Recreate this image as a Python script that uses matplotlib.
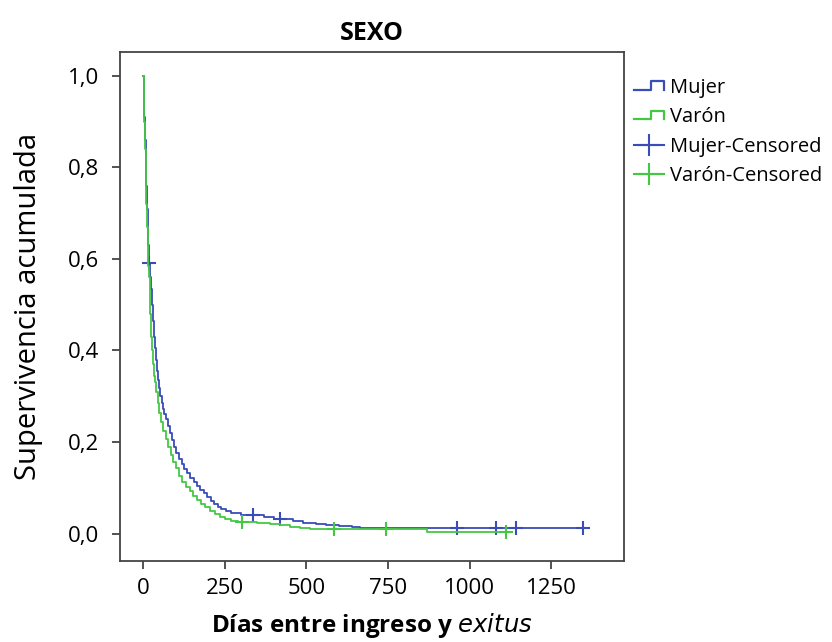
import matplotlib
matplotlib.use('Agg')
import matplotlib.pyplot as plt
import numpy as np
from matplotlib.lines import Line2D
from matplotlib.legend_handler import HandlerBase

# Kaplan-Meier estimates: event times (days) and survival after each step
mujer_t = [0, 2, 4, 6, 8, 10, 12, 14, 16, 18, 21, 24, 27, 30, 33, 36, 39, 42,
           45, 49, 53, 57, 61, 65, 70, 76, 82, 88, 95, 102, 110, 118, 126, 135,
           145, 155, 165, 175, 185, 196, 207, 218, 228, 240, 255, 270, 300, 370,
           400, 460, 490, 530, 560, 600, 640, 665, 1346]
mujer_s = [1.0, 0.96, 0.91, 0.86, 0.81, 0.76, 0.71, 0.67, 0.63, 0.59, 0.56,
           0.535, 0.50, 0.465, 0.43, 0.405, 0.38, 0.355, 0.335, 0.318, 0.30,
           0.285, 0.272, 0.262, 0.25, 0.235, 0.22, 0.205, 0.19, 0.176, 0.163,
           0.152, 0.142, 0.132, 0.122, 0.113, 0.104, 0.096, 0.088, 0.080, 0.072,
           0.064, 0.058, 0.053, 0.049, 0.045, 0.041, 0.036, 0.031, 0.028, 0.024,
           0.021, 0.019, 0.017, 0.014, 0.011, 0.011]
mujer_cens = [18, 335, 419, 961, 1080, 1142, 1346]

varon_t = [0, 2, 4, 6, 8, 10, 12, 14, 16, 18, 20, 22, 24, 27, 30, 33, 36, 40,
           45, 50, 56, 62, 69, 76, 84, 92, 100, 110, 120, 130, 142, 154, 166,
           178, 190, 205, 220, 235, 250, 270, 290, 350, 388, 420, 450, 480, 510,
           868, 1111]
varon_s = [1.0, 0.95, 0.90, 0.84, 0.78, 0.72, 0.67, 0.62, 0.585, 0.56, 0.53,
           0.48, 0.43, 0.40, 0.37, 0.345, 0.33, 0.31, 0.285, 0.263, 0.243, 0.225,
           0.207, 0.19, 0.172, 0.157, 0.144, 0.126, 0.113, 0.102, 0.092, 0.083,
           0.074, 0.064, 0.057, 0.050, 0.043, 0.037, 0.032, 0.028, 0.025, 0.023,
           0.020, 0.018, 0.015, 0.012, 0.010, 0.003, 0.003]
varon_cens = [303, 584, 744, 1111]

colors = ['#3a4cb8', '#44c844']

x_ticks = [0, 250, 500, 750, 1000, 1250]
y_ticks = [0.0, 0.2, 0.4, 0.6, 0.8, 1.0]

plt.rcParams['font.family'] = ['Open Sans', 'DejaVu Sans']
plt.rcParams['font.size'] = 16


def surv_at(t, times, surv):
    idx = np.searchsorted(times, t, side='right') - 1
    return np.asarray(surv)[idx]


class StepHandler(HandlerBase):
    # little step-shaped icon for the survival lines in the legend
    def create_artists(self, legend, orig_handle, xdescent, ydescent,
                       width, height, fontsize, trans):
        xs = np.array([0, 0.55, 0.55, 1.0, 1.0]) * width - xdescent
        ys = np.array([0.2, 0.2, 0.8, 0.8, 0.2]) * height - ydescent
        line = Line2D(xs, ys, color=orig_handle.get_color(), lw=1.6,
                      transform=trans)
        return [line]


fig = plt.figure(figsize=(8.32, 6.42), dpi=100)
ax = fig.add_axes([0.1442, 0.1262, 0.6058, 0.7928])

data = [(mujer_t, mujer_s, mujer_cens), (varon_t, varon_s, varon_cens)]
for (t, s, cens), c in zip(data, colors):
    ax.step(t, s, where='post', color=c, lw=1.3)
    ax.plot(cens, surv_at(cens, t, s), linestyle='none', marker='+',
            markersize=10, mew=1.5, color=c)

ax.set_xlim(-71, 1473)
ax.set_ylim(-0.060, 1.052)
ax.set_xticks(x_ticks)
ax.set_yticks(y_ticks)
ax.set_yticklabels([f'{v:.1f}'.replace('.', ',') for v in y_ticks])
ax.tick_params(direction='out', length=6, width=1.3, color='#444444',
               labelsize=16)
ax.tick_params(axis='y', pad=9)
ax.tick_params(axis='x', pad=6)
for sp in ax.spines.values():
    sp.set_color('#444444')
    sp.set_linewidth(1.3)

ax.set_title('SEXO', fontweight='bold', fontsize=18, pad=9)
ax.set_xlabel('Días entre ingreso y $\\bf{\\it{exitus}}$', fontweight='bold',
              fontsize=17.5, labelpad=9)
ax.set_ylabel('Supervivencia acumulada', fontsize=21, labelpad=18)

handles = [Line2D([], [], color=colors[0]), Line2D([], [], color=colors[1]),
           Line2D([], [], color=colors[0], marker='+', markersize=16, mew=1.5, lw=1.5),
           Line2D([], [], color=colors[1], marker='+', markersize=16, mew=1.5, lw=1.5)]
labels = ['Mujer', 'Varón', 'Mujer-Censored', 'Varón-Censored']
fig.legend(handles, labels, loc='upper left', bbox_to_anchor=(0.762, 0.879),
           frameon=False, handlelength=1.5, handletextpad=0.3, labelspacing=0.47,
           borderaxespad=0, borderpad=0, fontsize=14.5,
           handler_map={handles[0]: StepHandler(), handles[1]: StepHandler()})

fig.savefig('out.png', dpi=100)
